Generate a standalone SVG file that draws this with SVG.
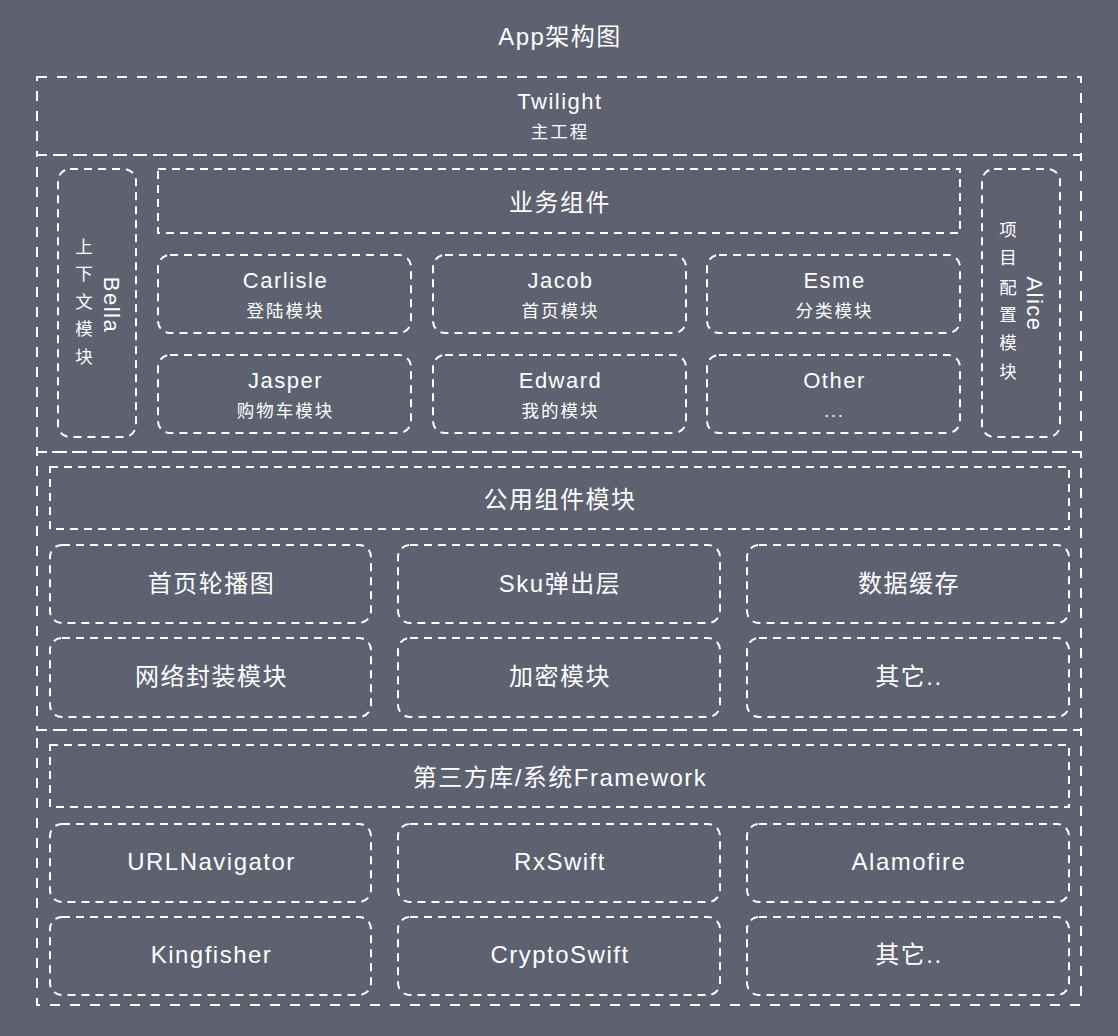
<svg xmlns="http://www.w3.org/2000/svg" width="1118" height="1036" viewBox="0 0 1118 1036">
<style>
text{font-family:"Liberation Sans","Noto Sans CJK SC",sans-serif;fill:#ffffff;text-anchor:middle}
.sec{fill:none;stroke:#ffffff;stroke-width:2;stroke-dasharray:10 10}
.box{fill:none;stroke:#ffffff;stroke-width:2;stroke-dasharray:8 6}
.t24{font-size:24px;letter-spacing:1.5px}
.t22{font-size:22px;letter-spacing:1.5px}
.t17{font-size:17.5px;letter-spacing:2px}
.v17{font-size:17.5px}
</style>
<rect width="1118" height="1036" fill="#5d6170"/>
<text id="title" class="t24" x="560" y="45">App架构图</text>
<g id="sections">
<rect id="sec-twilight" class="sec" x="37" y="77" width="1044" height="78"/>
<rect id="sec-business" class="sec" x="37" y="155" width="1044" height="297"/>
<rect id="sec-common" class="sec" x="37" y="452" width="1044" height="278"/>
<rect id="sec-third" class="sec" x="37" y="730" width="1044" height="275"/>
</g>
<g id="twilight">
<text class="t22" x="560" y="109">Twilight</text>
<text class="t17" x="560" y="138">主工程</text>
</g>
<g id="bella">
<rect class="box" x="58" y="169" width="78" height="268" rx="12"/>
<text class="t22" transform="translate(104,305) rotate(90)" x="0" y="0">Bella</text>
<text class="v17"><tspan x="84" y="253">上</tspan><tspan x="84" y="280">下</tspan><tspan x="84" y="308">文</tspan><tspan x="84" y="335">模</tspan><tspan x="84" y="363">块</tspan></text>
</g>
<g id="alice">
<rect class="box" x="982" y="169" width="78" height="268" rx="12"/>
<text class="t22" transform="translate(1027,304) rotate(90)" x="0" y="0">Alice</text>
<text class="v17"><tspan x="1008" y="236">项</tspan><tspan x="1008" y="264">目</tspan><tspan x="1008" y="294">配</tspan><tspan x="1008" y="321">置</tspan><tspan x="1008" y="349">模</tspan><tspan x="1008" y="378">块</tspan></text>
</g>
<g id="business-header">
<rect class="box" x="158" y="169" width="802" height="64"/>
<text class="t24" x="560" y="211">业务组件</text>
</g>
<g id="carlisle">
<rect class="box" x="158" y="255" width="253" height="78" rx="12"/>
<text class="t22" x="285.5" y="288">Carlisle</text>
<text class="t17" x="285.5" y="317">登陆模块</text>
</g>
<g id="jacob">
<rect class="box" x="433" y="255" width="253" height="78" rx="12"/>
<text class="t22" x="560.5" y="288">Jacob</text>
<text class="t17" x="560.5" y="317">首页模块</text>
</g>
<g id="esme">
<rect class="box" x="707" y="255" width="253" height="78" rx="12"/>
<text class="t22" x="834.5" y="288">Esme</text>
<text class="t17" x="834.5" y="317">分类模块</text>
</g>
<g id="jasper">
<rect class="box" x="158" y="355" width="253" height="78" rx="12"/>
<text class="t22" x="285.5" y="388">Jasper</text>
<text class="t17" x="285.5" y="417">购物车模块</text>
</g>
<g id="edward">
<rect class="box" x="433" y="355" width="253" height="78" rx="12"/>
<text class="t22" x="560.5" y="388">Edward</text>
<text class="t17" x="560.5" y="417">我的模块</text>
</g>
<g id="other">
<rect class="box" x="707" y="355" width="253" height="78" rx="12"/>
<text class="t22" x="834.5" y="388">Other</text>
<text class="t17" x="834.5" y="417">...</text>
</g>
<g id="common-header">
<rect class="box" x="50" y="467" width="1019" height="62"/>
<text class="t24" x="560" y="508">公用组件模块</text>
</g>
<g id="banner">
<rect class="box" x="50" y="545" width="321" height="78" rx="12"/>
<text class="t24" x="211.5" y="592">首页轮播图</text>
</g>
<g id="sku">
<rect class="box" x="398" y="545" width="322" height="78" rx="12"/>
<text class="t24" x="560" y="592">Sku弹出层</text>
</g>
<g id="cache">
<rect class="box" x="747" y="545" width="322" height="78" rx="12"/>
<text class="t24" x="909" y="592">数据缓存</text>
</g>
<g id="network">
<rect class="box" x="50" y="638" width="321" height="79" rx="12"/>
<text class="t24" x="211.5" y="685">网络封装模块</text>
</g>
<g id="crypto">
<rect class="box" x="398" y="638" width="322" height="79" rx="12"/>
<text class="t24" x="560" y="685">加密模块</text>
</g>
<g id="common-other">
<rect class="box" x="747" y="638" width="322" height="79" rx="12"/>
<text class="t24" x="909" y="685">其它..</text>
</g>
<g id="third-header">
<rect class="box" x="50" y="745" width="1019" height="62"/>
<text class="t24" x="560" y="786">第三方库/系统Framework</text>
</g>
<g id="urlnavigator">
<rect class="box" x="50" y="824" width="321" height="78" rx="12"/>
<text class="t24" x="211.5" y="870">URLNavigator</text>
</g>
<g id="rxswift">
<rect class="box" x="398" y="824" width="322" height="78" rx="12"/>
<text class="t24" x="560" y="870">RxSwift</text>
</g>
<g id="alamofire">
<rect class="box" x="747" y="824" width="322" height="78" rx="12"/>
<text class="t24" x="909" y="870">Alamofire</text>
</g>
<g id="kingfisher">
<rect class="box" x="50" y="917" width="321" height="78" rx="12"/>
<text class="t24" x="211.5" y="963">Kingfisher</text>
</g>
<g id="cryptoswift">
<rect class="box" x="398" y="917" width="322" height="78" rx="12"/>
<text class="t24" x="560" y="963">CryptoSwift</text>
</g>
<g id="third-other">
<rect class="box" x="747" y="917" width="322" height="78" rx="12"/>
<text class="t24" x="909" y="963">其它..</text>
</g>
<g id="connectors"></g>
</svg>
